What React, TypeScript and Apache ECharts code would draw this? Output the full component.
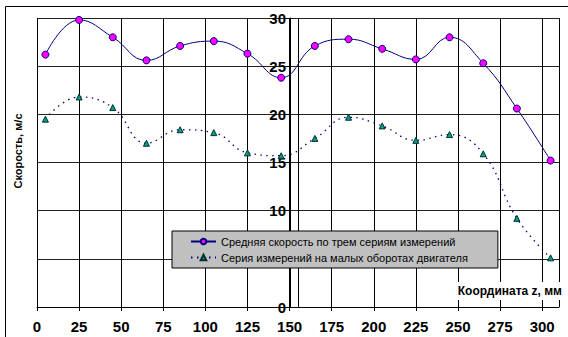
import React, { useEffect, useRef } from "react";
import * as echarts from "echarts";

const xCoords = [5, 25, 45, 65, 85, 105, 125, 145, 165, 185, 205, 225, 245, 265, 285, 305];
const avgSpeed = [26.2, 29.8, 28.0, 25.6, 27.1, 27.6, 26.3, 23.8, 27.1, 27.8, 26.8, 25.7, 28.0, 25.3, 20.6, 15.2];
const lowRpmSpeed = [19.5, 21.8, 20.7, 17.0, 18.4, 18.1, 16.0, 15.7, 17.5, 19.7, 18.8, 17.3, 17.9, 15.9, 9.2, 5.1];
const seriesNames = [
  "Средняя скорость по трем сериям измерений",
  "Серия измерений на малых оборотах двигателя",
];
const hiddenYLabels = [5];
const extraLineX = [155];
const yAxisTitle = "Скорость, м/с";
const xAxisTitle = "Координата z, мм";

const FONT = "'Liberation Sans', Arial, sans-serif";

export default function App() {
  const ref = useRef<HTMLDivElement>(null);
  useEffect(() => {
    if (!ref.current) return;
    const chart = echarts.init(ref.current, undefined, { renderer: "svg" });
    const pairs = (ys: number[]) => xCoords.map((x, i) => [x, ys[i]]);
    chart.setOption({
      animation: false,
      backgroundColor: "#fff",
      textStyle: { fontFamily: FONT },
      grid: { left: 37, top: 18, right: 9, bottom: 30, containLabel: false },
      xAxis: {
        type: "value",
        min: 0,
        max: 310,
        interval: 25,
        axisLine: { lineStyle: { color: "#000", width: 1 } },
        axisTick: { show: true, length: 4, lineStyle: { color: "#000" } },
        splitLine: { show: true, lineStyle: { color: "#000", width: 1 } },
        axisLabel: {
          color: "#000",
          fontWeight: "bold",
          fontSize: 15,
          fontFamily: FONT,
          margin: 12,
          showMaxLabel: false,
        },
      },
      yAxis: {
        type: "value",
        min: 0,
        max: 30,
        interval: 5,
        offset: -253,
        axisLine: { show: true, lineStyle: { color: "#000", width: 1 } },
        axisTick: { show: true, length: 4, lineStyle: { color: "#000" } },
        splitLine: { show: true, lineStyle: { color: "#222", width: 1 } },
        axisLabel: {
          color: "#000",
          fontWeight: "bold",
          fontSize: 15,
          fontFamily: FONT,
          margin: 4,
          formatter: (v: number) => (hiddenYLabels.includes(v) ? "" : String(v)),
        },
      },
      legend: {
        orient: "vertical",
        left: 172,
        top: 231,
        backgroundColor: "#c0c0c0",
        borderColor: "#000",
        borderWidth: 1,
        borderRadius: 0,
        padding: [5, 30, 5, 18],
        itemGap: 5,
        itemWidth: 25,
        itemHeight: 7,
        textStyle: { color: "#000", fontSize: 11, fontFamily: FONT },
        data: seriesNames,
        z: 10,
      },
      graphic: [
        {
          type: "rect",
          silent: true,
          z: 100,
          shape: { x: 5.5, y: 6.5, width: 800, height: 600 },
          style: { fill: "none", stroke: "#000", lineWidth: 1 },
        },
        {
          type: "text",
          x: 18,
          y: 151,
          rotation: Math.PI / 2,
          z: 100,
          style: {
            text: yAxisTitle,
            fontFamily: FONT,
            fontSize: 11,
            fontWeight: "bold",
            fill: "#000",
            align: "center",
            verticalAlign: "middle",
          },
        },
        {
          type: "text",
          x: 564,
          y: 291,
          z: 100,
          style: {
            text: xAxisTitle,
            fontFamily: FONT,
            fontSize: 12,
            fontWeight: "bold",
            fill: "#000",
            align: "right",
            verticalAlign: "middle",
            backgroundColor: "#fff",
            padding: [3, 2, 3, 3],
          },
        },
      ],
      series: [
        {
          name: seriesNames[0],
          type: "line",
          data: pairs(avgSpeed),
          smooth: 0.45,
          symbol: "circle",
          symbolSize: 7,
          itemStyle: { color: "#ff00ff", borderColor: "#000080", borderWidth: 1 },
          lineStyle: { color: "#000080", width: 1 },
          z: 3,
          markLine: {
            silent: true,
            symbol: "none",
            label: { show: false },
            lineStyle: { color: "#000", width: 1, type: "solid" },
            data: extraLineX.map((x) => ({ xAxis: x })),
          },
        },
        {
          name: seriesNames[1],
          type: "line",
          data: pairs(lowRpmSpeed),
          smooth: 0.45,
          symbol: "triangle",
          symbolSize: 6,
          itemStyle: { color: "#00a080", borderColor: "#003030", borderWidth: 1 },
          lineStyle: { color: "#000080", width: 1.3, type: [1.5, 4.5] },
          z: 3,
        },
      ],
    });
    return () => chart.dispose();
  }, []);
  return (
    <div
      ref={ref}
      style={{ position: "fixed", left: 0, top: 0, width: 568, height: 337 }}
    />
  );
}
